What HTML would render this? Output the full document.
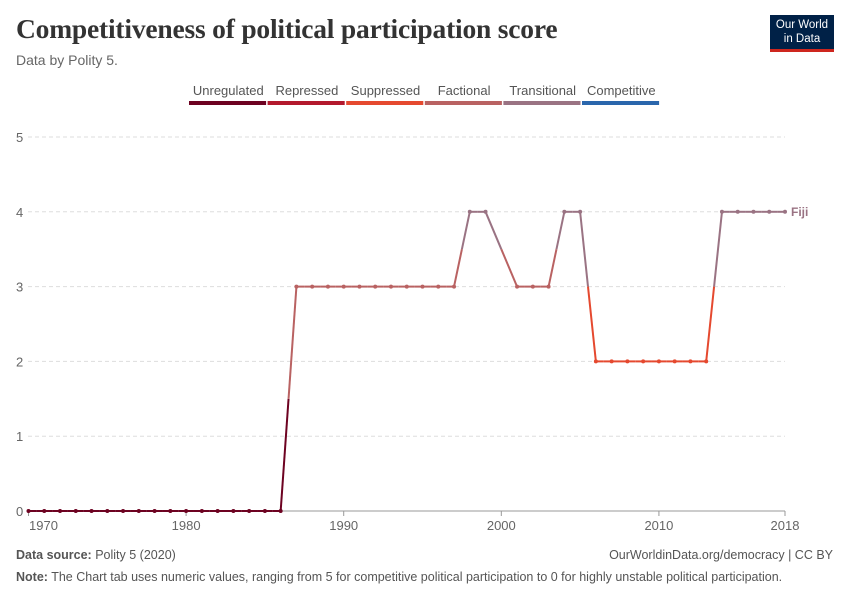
<!DOCTYPE html>
<html><head><meta charset="utf-8"><style>
body{margin:0;background:#fff;font-family:"Liberation Sans",sans-serif;}
#wrap{position:relative;width:850px;height:600px;overflow:hidden;}
.t{position:absolute;white-space:nowrap;}
</style></head><body>
<div id="wrap">
<div class="t" style="left:16px;top:13px;font-family:'Liberation Serif',serif;font-size:27.5px;color:#333;font-weight:bold;letter-spacing:-0.2px">Competitiveness of political participation score</div>
<div class="t" style="left:16px;top:52px;font-size:14px;color:#666">Data by Polity 5.</div>
<div style="position:absolute;left:770px;top:15px;width:64px;background:#002147;border-bottom:3px solid #ce261e;color:#fff;font-size:11.5px;text-align:center;line-height:14px;padding-top:3px;height:31px">Our World<br>in Data</div>
<svg id="svg" width="850" height="600" style="position:absolute;left:0;top:0"></svg>
<div class="t" style="left:16px;top:548px;font-size:12.5px;color:#555"><b>Data source:</b> Polity 5 (2020)</div>
<div class="t" style="right:17px;top:548px;font-size:12.5px;color:#555">OurWorldinData.org/democracy | CC BY</div>
<div class="t" style="left:16px;top:570px;font-size:12.5px;color:#555"><b>Note:</b> The Chart tab uses numeric values, ranging from 5 for competitive political participation to 0 for highly unstable political participation.</div>
</div>
<script>
const years=[1970,1971,1972,1973,1974,1975,1976,1977,1978,1979,1980,1981,1982,1983,1984,1985,1986,1987,1988,1989,1990,1991,1992,1993,1994,1995,1996,1997,1998,1999,2001,2002,2003,2004,2005,2006,2007,2008,2009,2010,2011,2012,2013,2014,2015,2016,2017,2018];
const values=[0,0,0,0,0,0,0,0,0,0,0,0,0,0,0,0,0,3,3,3,3,3,3,3,3,3,3,3,4,4,3,3,3,4,4,2,2,2,2,2,2,2,2,4,4,4,4,4];
const categories=["Unregulated","Repressed","Suppressed","Factional","Transitional","Competitive"];
const catColors=["#6d0221","#b3192d","#e5492f","#b96262","#9a7383","#2a66ac"];
const yTicks=[0,1,2,3,4,5];
const xTicks=[1970,1980,1990,2000,2010,2018];
const NS="http://www.w3.org/2000/svg";
const svg=document.getElementById('svg');
const x=y=>28.5+(y-1970)*(785-28.5)/48;
const yS=v=>511-v*74.8;
function mk(tag,a){const e=document.createElementNS(NS,tag);for(const k in a)e.setAttribute(k,a[k]);svg.appendChild(e);return e;}
yTicks.forEach(v=>{
 const l=mk('line',{x1:28,x2:785,y1:yS(v),y2:yS(v),stroke:v===0?'#999':'#ddd','stroke-dasharray':v===0?'':'4,3'});
 
 const t=mk('text',{x:16,y:yS(v)+5,'font-size':13,fill:'#666','font-family':'Liberation Sans'});t.textContent=v;
 
});
xTicks.forEach((v,i)=>{
 const tk=mk('line',{x1:x(v),x2:x(v),y1:511,y2:516,stroke:'#999'});
 
 const t=mk('text',{x:i===0?x(v)+15:x(v),y:530,'font-size':13,fill:'#666','text-anchor':'middle','font-family':'Liberation Sans'});t.textContent=v;
 
});
const lx0=189,lw=78.6;
categories.forEach((c,i)=>{
 const r=mk('rect',{x:lx0+i*lw,y:101,width:lw-1.5,height:4,fill:catColors[i]});
 
 const t=mk('text',{x:lx0+i*lw+lw/2,y:95,'font-size':13,fill:'#555','text-anchor':'middle','font-family':'Liberation Sans'});t.textContent=c;
 
});
for(let i=0;i<years.length-1;i++){
 const x1=x(years[i]),y1=yS(values[i]),x2=x(years[i+1]),y2=yS(values[i+1]);
 const mx=(x1+x2)/2,my=(y1+y2)/2;
 const a=mk('line',{x1:x1,y1:y1,x2:mx,y2:my,stroke:catColors[values[i]],'stroke-width':2});
 
 const b=mk('line',{x1:mx,y1:my,x2:x2,y2:y2,stroke:catColors[values[i+1]],'stroke-width':2});
 
}
years.forEach((yr,i)=>{
 const c=mk('circle',{cx:x(yr),cy:yS(values[i]),r:2,fill:catColors[values[i]]});
 
});
const last=values.length-1;
const lab=mk('text',{x:x(years[last])+6,y:yS(values[last])+4,'font-size':12,fill:catColors[values[last]],'font-weight':'bold','font-family':'Liberation Sans'});
lab.textContent='Fiji';

</script>
</body></html>
